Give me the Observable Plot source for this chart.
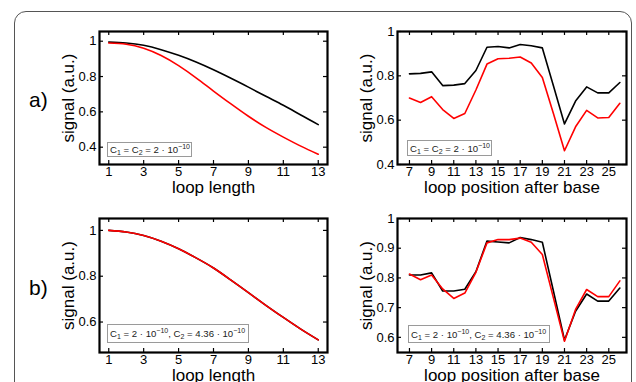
<!DOCTYPE html>
<html>
<head>
<meta charset="utf-8">
<script src="https://cdn.jsdelivr.net/npm/d3@7"></script>
<script src="https://cdn.jsdelivr.net/npm/@observablehq/plot@0.6"></script>
<style>
  html, body { margin: 0; padding: 0; background: #fff; }
  #root { position: relative; width: 636px; height: 382px; overflow: hidden; font-family: "Liberation Sans", Arial, Helvetica, sans-serif; }
  #outer { position: absolute; left: 14px; top: 11px; width: 618px; height: 420px; border: 1.5px solid #555; border-radius: 12px; box-sizing: border-box; }
  .panel { position: absolute; }
  .tag { position: absolute; font-size: 21px; line-height: 1; color: #000; }
  .leg { position: absolute; box-sizing: border-box; border: 1px solid #9a9a9a; background: #fff; font-size: 9.6px; color: #222; white-space: nowrap; display: flex; align-items: center; padding-left: 2px; overflow: hidden; }
  .leg sub, .leg sup { font-size: 7px; line-height: 0; }
  .leg sub { vertical-align: -2px; }
  .leg sup { vertical-align: 4px; }
</style>
</head>
<body>
<div id="root"><div id="outer"></div></div>
<script>
// ---- data ----
const loopLength = [1, 2, 3, 4, 5, 6, 7, 8, 9, 10, 11, 12, 13];
const lenA_black = [0.995, 0.99, 0.977, 0.952, 0.92, 0.882, 0.838, 0.79, 0.74, 0.688, 0.637, 0.582, 0.528];
const lenA_red   = [0.99, 0.983, 0.96, 0.919, 0.862, 0.793, 0.718, 0.645, 0.575, 0.512, 0.457, 0.406, 0.36];
const lenB_black = [1.0, 0.993, 0.978, 0.953, 0.92, 0.88, 0.836, 0.783, 0.728, 0.673, 0.62, 0.569, 0.522];
const lenB_red   = [1.0, 0.993, 0.978, 0.953, 0.92, 0.88, 0.836, 0.783, 0.728, 0.673, 0.62, 0.569, 0.522];

const loopPos = [7, 8, 9, 10, 11, 12, 13, 14, 15, 16, 17, 18, 19, 20, 21, 22, 23, 24, 25, 26];
const posA_black = [0.809, 0.811, 0.818, 0.756, 0.758, 0.765, 0.824, 0.929, 0.932, 0.926, 0.941, 0.936, 0.926, 0.755, 0.583, 0.686, 0.75, 0.723, 0.723, 0.77];
const posA_red   = [0.70, 0.68, 0.706, 0.648, 0.608, 0.63, 0.736, 0.853, 0.877, 0.879, 0.885, 0.858, 0.792, 0.63, 0.462, 0.57, 0.644, 0.61, 0.612, 0.676];
const posB_black = [0.81, 0.81, 0.817, 0.756, 0.756, 0.762, 0.821, 0.924, 0.921, 0.918, 0.936, 0.929, 0.92, 0.756, 0.591, 0.688, 0.746, 0.722, 0.722, 0.766];
const posB_red   = [0.813, 0.794, 0.81, 0.763, 0.731, 0.749, 0.819, 0.918, 0.929, 0.929, 0.934, 0.92, 0.879, 0.733, 0.587, 0.694, 0.761, 0.737, 0.737, 0.79];

const lenTicks = [1, 3, 5, 7, 9, 11, 13];
const posTicks = [7, 9, 11, 13, 15, 17, 19, 21, 23, 25];
const yTicksA = [0.4, 0.6, 0.8, 1];
const yTicksBL = [0.6, 0.8, 1];
const yTicksBR = [0.6, 0.7, 0.8, 0.9, 1];

const yLabel = "signal (a.u.)";
const xLabelLen = "loop length";
const xLabelPos = "loop position after base";
const rowTags = ["a)", "b)"];
const legendA = 'C<sub>1</sub> = C<sub>2</sub> = 2 · 10<sup>−10</sup>';
const legendB = 'C<sub>1</sub> = 2 · 10<sup>−10</sup>, C<sub>2</sub> = 4.36 · 10<sup>−10</sup>';

// ---- drawing ----
const root = document.getElementById("root");
const FONT = '"Liberation Sans", Arial, Helvetica, sans-serif';

function toRows(xs, ys) { return xs.map((x, i) => ({x, y: ys[i]})); }

function panel(o) {
  const {left, top, ml, mr, mt, mb, fw, fh, xDomain, yDomain, xTicks, yTicks, xLabel, xs, black, red, curve} = o;
  const T = 4;
  const chart = Plot.plot({
    width: ml + fw + mr,
    height: mt + fh + mb,
    marginLeft: ml, marginRight: mr, marginTop: mt, marginBottom: mb,
    x: {domain: xDomain},
    y: {domain: yDomain},
    style: {fontFamily: FONT, fontSize: "13px", color: "#000", background: "transparent", overflow: "visible"},
    marks: [
      Plot.line(toRows(xs, black), {x: "x", y: "y", stroke: "#000", strokeWidth: 1.6, curve}),
      Plot.line(toRows(xs, red), {x: "x", y: "y", stroke: "#ff0000", strokeWidth: 1.6, curve}),
      Plot.tickX(xTicks, {x: d => d, insetTop: fh - T, stroke: "#000", strokeWidth: 1.2}),
      Plot.tickX(xTicks, {x: d => d, insetBottom: fh - T, stroke: "#000", strokeWidth: 1.2}),
      Plot.tickY(yTicks, {y: d => d, insetLeft: fw - T, stroke: "#000", strokeWidth: 1.2}),
      Plot.tickY(yTicks, {y: d => d, insetRight: fw - T, stroke: "#000", strokeWidth: 1.2}),
      Plot.frame({stroke: "#000", strokeWidth: 2.2}),
      Plot.axisX(xTicks, {tickSize: 0, tickPadding: 2, label: null, tickFormat: d => String(d), fontSize: 13}),
      Plot.axisY(yTicks, {tickSize: 0, tickPadding: 3, label: null, tickFormat: d => String(d), fontSize: 13}),
      Plot.text([yLabel], {frameAnchor: "left", dx: -31, rotate: -90, fontSize: 17, textAnchor: "middle", fill: "#000"}),
      Plot.text([xLabel], {frameAnchor: "bottom", dy: 16, lineAnchor: "top", fontSize: 17, fill: "#000"})
    ]
  });
  chart.classList.add("panel");
  chart.style.left = left + "px";
  chart.style.top = top + "px";
  root.appendChild(chart);
}

// left column: frame x 99..327 ; right column: frame x 397..626
// top row: frame y 31..164 ; bottom row: frame y 218..352
panel({left: 50, top: 20, ml: 49, mr: 4, mt: 11, mb: 40, fw: 228, fh: 133,
  xDomain: [0.47, 13.53], yDomain: [0.302, 1.055], xTicks: lenTicks, yTicks: yTicksA,
  xLabel: xLabelLen, xs: loopLength, black: lenA_black, red: lenA_red, curve: "natural"});
panel({left: 345, top: 20, ml: 52, mr: 5, mt: 11, mb: 40, fw: 229, fh: 133,
  xDomain: [5.92, 26.6], yDomain: [0.4, 1], xTicks: posTicks, yTicks: yTicksA,
  xLabel: xLabelPos, xs: loopPos, black: posA_black, red: posA_red, curve: "linear"});
panel({left: 50, top: 205, ml: 49, mr: 4, mt: 13, mb: 40, fw: 228, fh: 134,
  xDomain: [0.47, 13.53], yDomain: [0.467, 1.052], xTicks: lenTicks, yTicks: yTicksBL,
  xLabel: xLabelLen, xs: loopLength, black: lenB_black, red: lenB_red, curve: "natural"});
panel({left: 345, top: 205, ml: 52, mr: 5, mt: 13, mb: 40, fw: 229, fh: 134,
  xDomain: [5.92, 26.6], yDomain: [0.549, 1], xTicks: posTicks, yTicks: yTicksBR,
  xLabel: xLabelPos, xs: loopPos, black: posB_black, red: posB_red, curve: "linear"});

function addTag(text, left, top) {
  const d = document.createElement("div");
  d.className = "tag"; d.textContent = text;
  d.style.left = left + "px"; d.style.top = top + "px";
  root.appendChild(d);
}
addTag(rowTags[0], 29, 89);
addTag(rowTags[1], 29, 277);

function addLegend(html, left, top, w, h) {
  const d = document.createElement("div");
  d.className = "leg";
  const s = document.createElement("span");
  s.innerHTML = html;
  d.appendChild(s);
  Object.assign(d.style, {left: left + "px", top: top + "px", width: w + "px", height: h + "px"});
  root.appendChild(d);
}
addLegend(legendA, 107, 142, 85, 15);
addLegend(legendA, 407, 140, 85, 16);
addLegend(legendB, 107, 324, 142, 19);
addLegend(legendB, 408, 325, 142, 18);
</script>
</body>
</html>
